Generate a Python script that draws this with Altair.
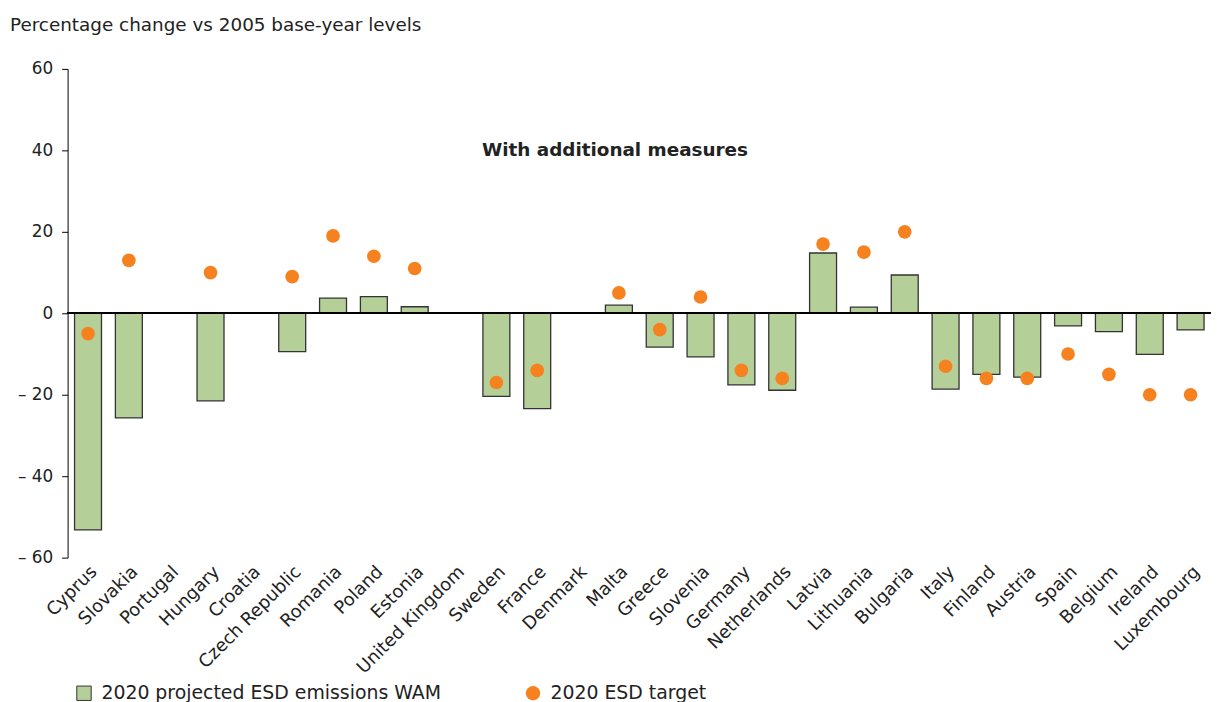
import altair as alt
import pandas as pd

countries = ["Cyprus", "Slovakia", "Portugal", "Hungary", "Croatia", "Czech Republic",
             "Romania", "Poland", "Estonia", "United Kingdom", "Sweden", "France",
             "Denmark", "Malta", "Greece", "Slovenia", "Germany", "Netherlands",
             "Latvia", "Lithuania", "Bulgaria", "Italy", "Finland", "Austria",
             "Spain", "Belgium", "Ireland", "Luxembourg"]
projected_wam = [-53.2, -25.7, None, -21.5, None, -9.4,
                 3.7, 4.1, 1.6, None, -20.4, -23.4,
                 None, 2.0, -8.3, -10.7, -17.6, -18.9,
                 14.8, 1.5, 9.4, -18.6, -15.0, -15.7,
                 -3.1, -4.5, -10.1, -4.1]
esd_target = [-5, 13, None, 10, None, 9,
              19, 14, 11, None, -17, -14,
              None, 5, -4, 4, -14, -16,
              17, 15, 20, -13, -16, -16,
              -10, -15, -20, -20]

bar_name = "2020 projected ESD emissions WAM"
target_name = "2020 ESD target"

df = pd.DataFrame({
    "country": countries,
    "wam": projected_wam,
    "target": esd_target,
    "bar_series": bar_name,
    "target_series": target_name,
})

FONT = "DejaVu Sans"
TXT = "#222222"

x_enc = alt.X("country:N", sort=countries,
              scale=alt.Scale(domain=countries, paddingInner=0.34, paddingOuter=0.17),
              axis=alt.Axis(title=None, labelAngle=-45, ticks=False, domain=False,
                            labelFontSize=18, labelFont=FONT, labelColor=TXT,
                            labelPadding=5, labelLimit=0))
y_scale = alt.Scale(domain=[-60, 60], nice=False)
y_axis = alt.Axis(title=None, values=[-60, -40, -20, 0, 20, 40, 60], grid=False,
                  tickSize=6, tickColor="#000000", domainColor="#000000",
                  labelFontSize=17, labelFont=FONT, labelColor=TXT, labelPadding=9,
                  labelExpr="datum.value < 0 ? '\u2013 ' + abs(datum.value) : datum.label")

bars = alt.Chart(df).mark_bar(stroke="#333333", strokeWidth=1.3).encode(
    x=x_enc,
    y=alt.Y("wam:Q", scale=y_scale, axis=y_axis),
    fill=alt.Fill("bar_series:N",
                  scale=alt.Scale(domain=[bar_name], range=["#b5cf98"]),
                  legend=alt.Legend(title=None, orient="none", legendX=7, legendY=619,
                                    symbolType="square", symbolSize=210,
                                    symbolStrokeColor="#333333", symbolStrokeWidth=1,
                                    labelFontSize=19, labelFont=FONT, labelColor=TXT,
                                    labelLimit=0, labelOffset=8)),
)

zero = alt.Chart(df).mark_rule(color="#000000", strokeWidth=1.5).encode(
    y=alt.datum(0)
)

points = alt.Chart(df).mark_circle(size=190, opacity=1).encode(
    x=alt.X("country:N", sort=countries),
    y=alt.Y("target:Q"),
    color=alt.Color("target_series:N",
                    scale=alt.Scale(domain=[target_name], range=["#f5821f"]),
                    legend=alt.Legend(title=None, orient="none", legendX=459, legendY=619,
                                      symbolType="circle", symbolSize=210,
                                      labelFontSize=19, labelFont=FONT, labelColor=TXT,
                                      labelLimit=0, labelOffset=8)),
)

label = alt.Chart(pd.DataFrame({"t": ["With additional measures"]})).mark_text(
    font=FONT, fontSize=18.5, fontWeight="bold", color=TXT, align="center", baseline="middle"
).encode(
    text="t:N",
    x=alt.value(551),
    y=alt.datum(40),
)

chart = alt.layer(bars, zero, points, label).properties(
    width=1151,
    height=492,
    title=alt.TitleParams("Percentage change vs 2005 base-year levels",
                          anchor="start", frame="group", dx=-58, offset=26,
                          fontSize=18.5, font=FONT, fontWeight="normal", color=TXT),
    autosize=alt.AutoSizeParams(type="none"),
    padding={"left": 60, "top": 59, "right": 0, "bottom": 143},
).configure_view(stroke=None)

chart.save("out.html", embed_options={"renderer": "svg", "actions": False})
